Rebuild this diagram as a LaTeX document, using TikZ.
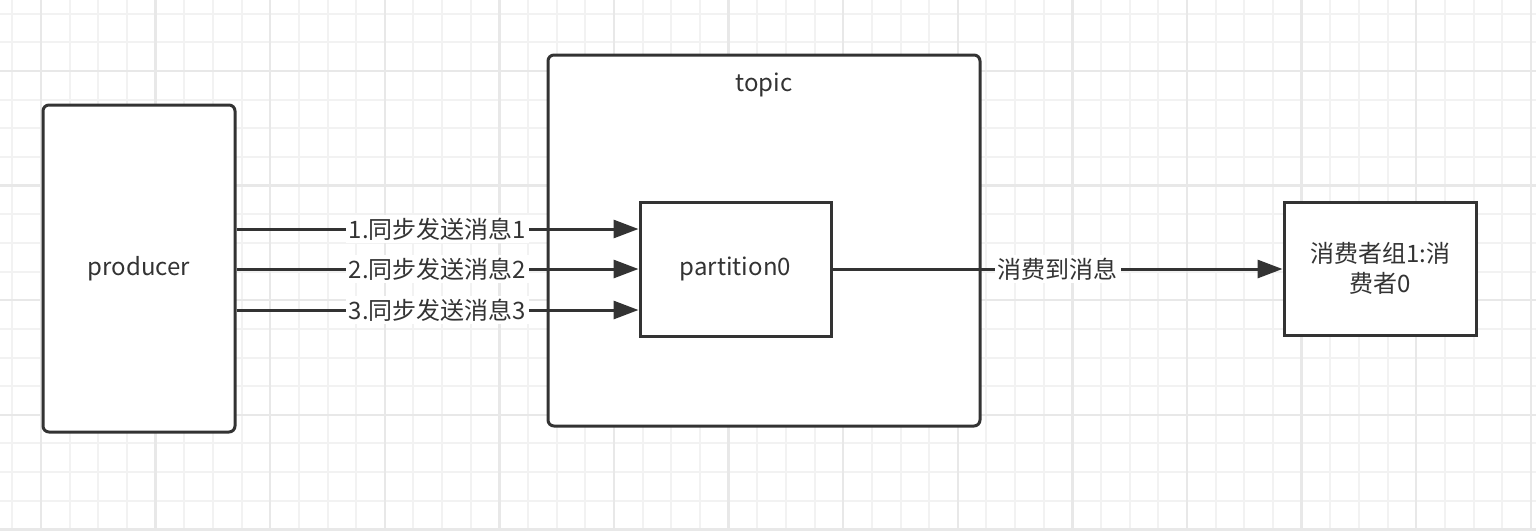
\documentclass[tikz,border=0pt]{standalone}
\usepackage{fontspec}
\setmainfont{Noto Sans CJK SC}
\usetikzlibrary{arrows.meta}
\definecolor{ink}{HTML}{333333}
\definecolor{gridminor}{HTML}{F2F2F2}
\definecolor{gridmajor}{HTML}{E8E8E8}

\begin{document}
\begin{tikzpicture}[
    x=0.5pt, y=-0.5pt,
    >={Triangle[length=12.5pt,width=9pt]},
    box/.style={draw=ink, line width=1.5pt, fill=white, text=ink, align=center,
                font=\fontsize{12}{15}\selectfont, inner sep=0pt},
    rbox/.style={box, rounded corners=3pt},
    flow/.style={draw=ink, line width=1.5pt, ->},
    lab/.style={fill=white, text=ink, font=\fontsize{12}{15}\selectfont, inner sep=1.5pt},
    minorline/.style={draw=gridminor, line width=1pt},
    majorline/.style={draw=gridmajor, line width=1.2pt},
]
  \useasboundingbox (0,0) rectangle (1536,531);

  % ---------------- background grid ----------------
  \fill[white] (0,0) rectangle (1536,531);
  \foreach \i in {0,...,53} \draw[minorline] ({12.35+28.65*\i},0) -- ++(0,531);
  \foreach \j in {0,...,18} \draw[minorline] (0,{13.7+28.65*\j}) -- ++(1536,0);
  \foreach \i in {0,...,13} \draw[majorline] ({41+114.6*\i},0) -- ++(0,531);
  \foreach \j in {0,...,4} \draw[majorline] (0,{71+114.6*\j}) -- ++(1536,0);

  % ---------------- producer ----------------
  \node[rbox, minimum width=96pt, minimum height=163.5pt] (producer) at (139,268.5) {producer};

  % ---------------- topic ----------------
  \node[rbox, minimum width=216pt, minimum height=185.5pt] (topic) at (764,240.5) {};
  \node[text=ink, font=\fontsize{12}{15}\selectfont] (topicT) at (764,85) {topic};
  \node[box, minimum width=95.5pt, minimum height=67pt] (partition) at (735.5,269) {partition0};

  % ---------------- consumer ----------------
  \node[box, minimum width=96pt, minimum height=66.5pt] (consumer) at (1380,268.5)
       {消费者组1:消\\费者0};

  % ---------------- connectors ----------------
  % producer -> partition: three synchronous sends
  \draw[flow] ([yshift=20pt]partition.west -| producer.east) -- ([yshift=20pt]partition.west)
       node[lab, midway] {1.同步发送消息1};
  \draw[flow] (partition.west -| producer.east) -- (partition.west)
       node[lab, midway] {2.同步发送消息2};
  \draw[flow] ([yshift=-20.5pt]partition.west -| producer.east) -- ([yshift=-20.5pt]partition.west)
       node[lab, midway] {3.同步发送消息3};
  % partition -> consumer
  \draw[flow] (partition.east) -- (partition.east -| consumer.west)
       node[lab, midway] {消费到消息};
\end{tikzpicture}
\end{document}
